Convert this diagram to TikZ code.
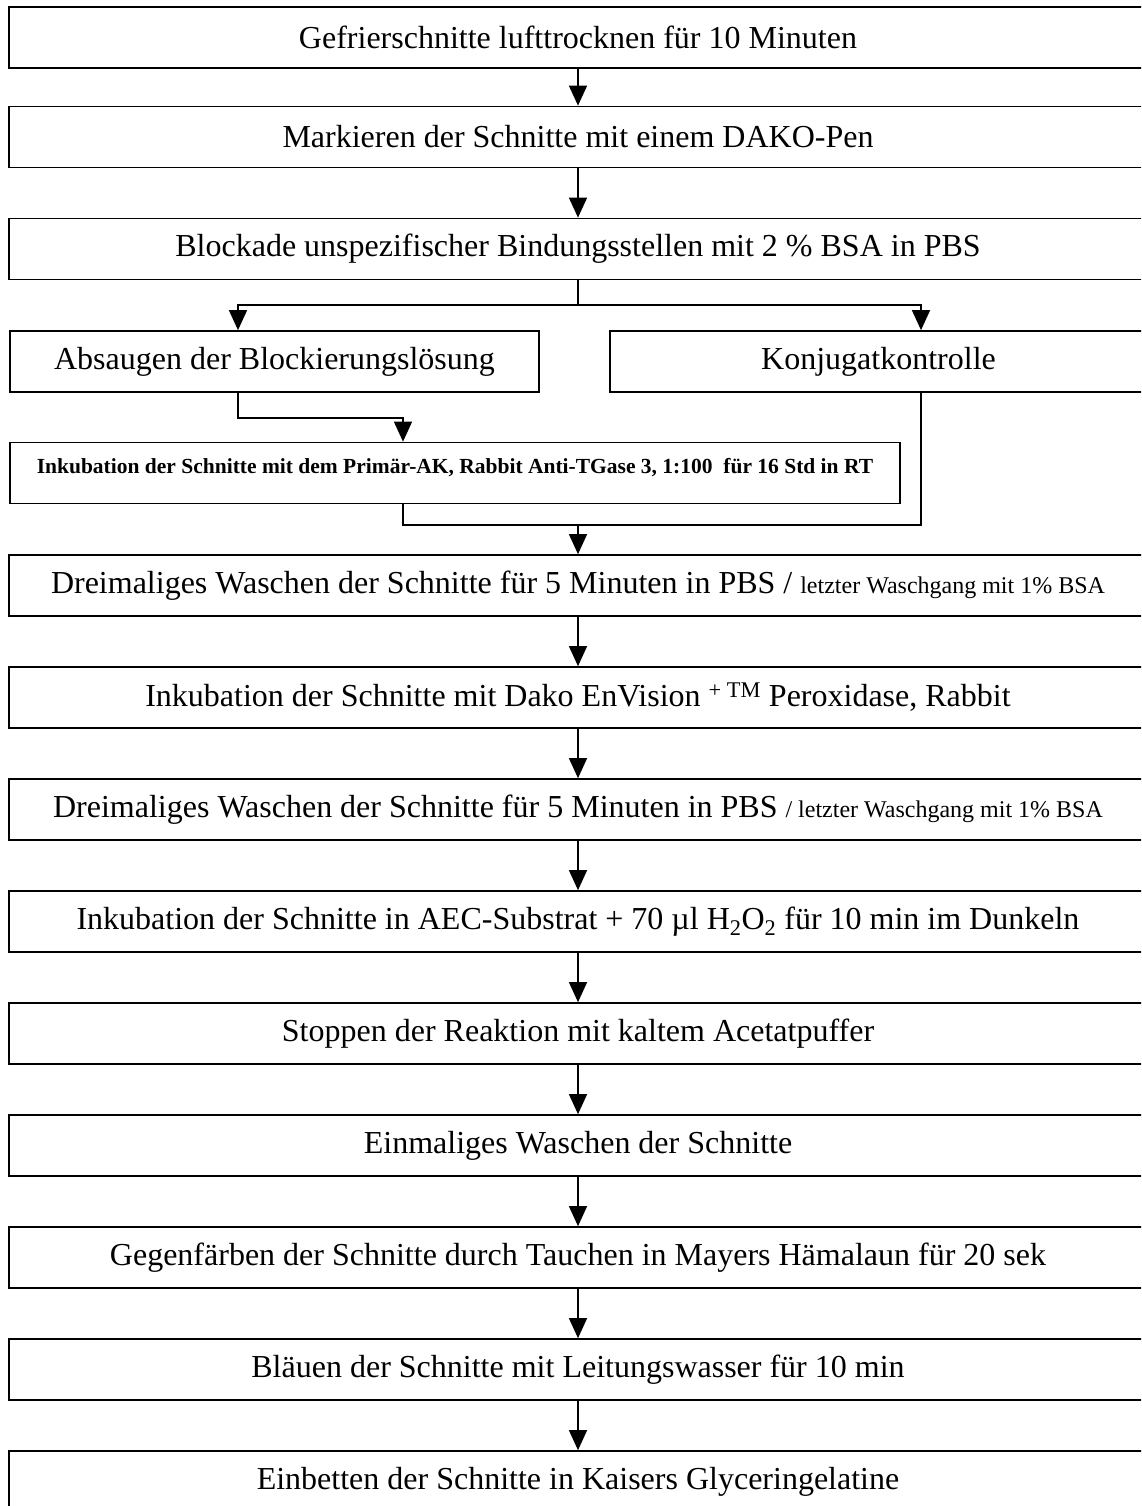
\documentclass[tikz,border=0pt]{standalone}
\usepackage{fontspec}
\setmainfont{Liberation Serif}
\usetikzlibrary{arrows.meta}
\tikzset{
  box/.style={draw, line width=1.7pt, minimum height=61pt, inner sep=0pt,
    font=\fontsize{32}{38}\selectfont},
  wide/.style={box, minimum width=1138pt},
  conn/.style={line width=1.5pt},
  arr/.style={conn, -{Triangle[length=20pt,width=18pt]}}
}
\newcommand{\smtxt}[1]{{\fontsize{24}{28}\selectfont #1}}
\begin{document}
\begin{tikzpicture}[x=1pt,y=-1pt]
\useasboundingbox (0,0) rectangle (1141,1506);
\clip (0,0) rectangle (1141,1506);
\fill[white] (0,0) rectangle (1141,1506);

\node[wide] (b1) at (578,37.5) {Gefrierschnitte lufttrocknen für 10 Minuten};
\node[wide] (b2) at (578,137) {Markieren der Schnitte mit einem DAKO-Pen};
\node[wide] (b3) at (578,249) {Blockade unspezifischer Bindungsstellen mit 2 \% BSA in PBS};
\node[box, minimum width=529pt] (a) at (274.5,361.5) {Absaugen der Blockierungslösung};
\node[box, minimum width=537pt] (k) at (878.5,361.5) {Konjugatkontrolle};
\node[box, minimum width=890pt, text height=15pt, text depth=15pt,
  font=\fontsize{21.5}{25}\selectfont\bfseries] (i) at (455,473)
  {Inkubation der Schnitte mit dem Primär-AK, Rabbit Anti-TGase 3, 1:100\ \ für 16 Std in RT};
\node[wide] (d1) at (578,585.5) {Dreimaliges Waschen der Schnitte für 5 Minuten in PBS / \smtxt{letzter Waschgang mit 1\% BSA}};
\node[wide] (e) at (578,697.5) {Inkubation der Schnitte mit Dako EnVision \textsuperscript{+ TM} Peroxidase, Rabbit};
\node[wide] (d2) at (578,809.5) {Dreimaliges Waschen der Schnitte für 5 Minuten in PBS \smtxt{/ letzter Waschgang mit 1\% BSA}};
\node[wide] (f) at (578,921.5) {Inkubation der Schnitte in AEC-Substrat + 70 µl H\textsubscript{2}O\textsubscript{2} für 10 min im Dunkeln};
\node[wide] (g) at (578,1033.5) {Stoppen der Reaktion mit kaltem Acetatpuffer};
\node[wide] (h) at (578,1145.5) {Einmaliges Waschen der Schnitte};
\node[wide] (j) at (578,1257.5) {Gegenfärben der Schnitte durch Tauchen in Mayers Hämalaun für 20 sek};
\node[wide] (l) at (578,1369.5) {Bläuen der Schnitte mit Leitungswasser für 10 min};
\node[wide] (m) at (578,1481.5) {Einbetten der Schnitte in Kaisers Glyceringelatine};

\draw[arr] (b1) -- (b2);
\draw[arr] (b2) -- (b3);

\coordinate (split) at (578,305);
\coordinate (aN) at ([xshift=-36.5pt]a.north);
\coordinate (aS) at ([xshift=-36.5pt]a.south);
\coordinate (kN) at ([xshift=42.5pt]k.north);
\coordinate (kS) at ([xshift=42.5pt]k.south);
\coordinate (iN) at ([xshift=-52pt]i.north);
\coordinate (iS) at ([xshift=-52pt]i.south);
\coordinate (join) at (578,525);

\draw[conn] (b3.south) -- (split);
\draw[arr] (split) -| (aN);
\draw[arr] (split) -| (kN);
\draw[arr] (aS) -- ++(0,25) -| (iN);
\draw[conn] (iS) |- (kS |- join) -- (kS);
\draw[arr] (join) -- (d1.north);

\draw[arr] (d1) -- (e);
\draw[arr] (e) -- (d2);
\draw[arr] (d2) -- (f);
\draw[arr] (f) -- (g);
\draw[arr] (g) -- (h);
\draw[arr] (h) -- (j);
\draw[arr] (j) -- (l);
\draw[arr] (l) -- (m);
\end{tikzpicture}
\end{document}
